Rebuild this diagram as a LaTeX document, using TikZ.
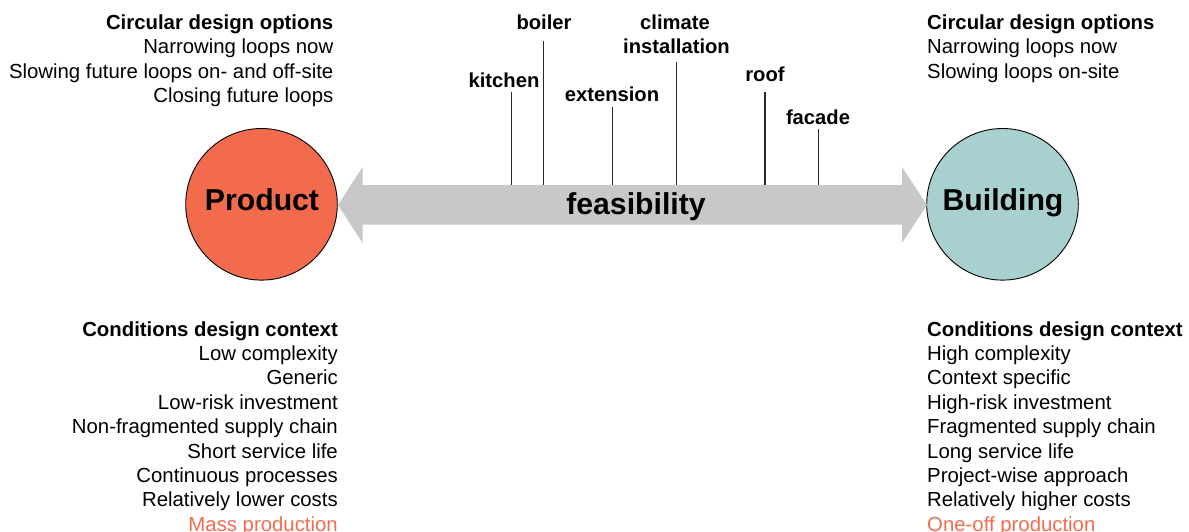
\documentclass[tikz,border=0pt]{standalone}
\usepackage{fontspec}
\setmainfont{Liberation Sans}
\definecolor{prodfill}{RGB}{243,107,77}
\definecolor{buildfill}{RGB}{168,208,206}
\definecolor{arrowgrey}{RGB}{200,200,200}
\definecolor{accent}{RGB}{243,107,77}
\definecolor{tickline}{RGB}{40,40,40}
\begin{document}
\begin{tikzpicture}[x=1pt,y=-1pt,
  body/.style={inner sep=0pt,font=\fontsize{20.35}{24}\selectfont},
  head/.style={body,font=\fontsize{20.35}{24}\selectfont\bfseries},
  tag/.style={inner sep=0pt,anchor=base,font=\fontsize{20.2}{24}\selectfont\bfseries},
  big/.style={inner sep=0pt,anchor=base,font=\fontsize{30.2}{36}\selectfont\bfseries},
  circ/.style={circle,draw=black,line width=0.9pt,minimum size=151.6pt,inner sep=0pt},
  tick/.style={draw=tickline,line width=1.4pt}]
\useasboundingbox (0,0) rectangle (1189,532);
% circles
\node[circ,fill=prodfill] (product) at (261.5,204.3) {};
\node[circ,fill=buildfill] (building) at (1002.5,204.3) {};
\node[big] (productlabel) at (262,210.7) {Product};
\node[big] (buildinglabel) at (1003,210.2) {Building};
% double arrow
\coordinate (ltip) at (338,205);
\coordinate (rtip) at (927,205);
\fill[arrowgrey] (ltip) -- (362.5,167) -- (362.5,185) -- (902,185) -- (902,167) -- (rtip)
  -- (902,243) -- (902,224.5) -- (362.5,224.5) -- (362.5,243) -- cycle;
\node[big] (feas) at (636,214.3) {feasibility};
% component labels and ticks
\node[tag] (kitchen) at (504,87.3) {kitchen};
\node[tag] (boiler) at (544,30) {boiler};
\node[tag] (climate) at (675,29.3) {climate};
\node[tag] (install) at (676.5,54) {installation};
\node[tag] (extension) at (612,101.7) {extension};
\node[tag] (roof) at (765,81.7) {roof};
\node[tag] (facade) at (818,125) {facade};
\foreach \n/\x/\y in {kitchen/511.7/92,boiler/543.7/41,extension/612.3/107,install/676.7/62,roof/765/92,facade/818.7/129}{
  \coordinate (\n top) at (\x,\y);
  \coordinate (\n bot) at (\x,185);
  \draw[tick] (\n top) -- (\n bot);
}
% top-left block
\node[head,anchor=base east] (tl0) at (333.5,29.5) {Circular design options};
\node[body,anchor=base east] (tl1) at (333.5,54) {Narrowing loops now};
\node[body,anchor=base east] (tl2) at (333.5,78.5) {Slowing future loops on- and off-site};
\node[body,anchor=base east] (tl3) at (333.5,103) {Closing future loops};
% top-right block
\node[head,anchor=base west] (tr0) at (927,29.5) {Circular design options};
\node[body,anchor=base west] (tr1) at (927,54) {Narrowing loops now};
\node[body,anchor=base west] (tr2) at (927,78.5) {Slowing loops on-site};
% bottom-left block
\node[head,anchor=base east] (bl0) at (338,336) {Conditions design context};
\foreach \t [count=\i] in {Low complexity,Generic,Low-risk investment,Non-fragmented supply chain,Short service life,Continuous processes,Relatively lower costs}{
  \node[body,anchor=base east] (bl\i) at (338,336+24.4*\i) {\t};
}
\node[body,anchor=base east,text=accent] (bl8) at (338,531.2) {Mass production};
% bottom-right block
\node[head,anchor=base west] (br0) at (927,336) {Conditions design context};
\foreach \t [count=\i] in {High complexity,Context specific,High-risk investment,Fragmented supply chain,Long service life,Project-wise approach,Relatively higher costs}{
  \node[body,anchor=base west] (br\i) at (927,336+24.4*\i) {\t};
}
\node[body,anchor=base west,text=accent] (br8) at (927,531.2) {One-off production};
\end{tikzpicture}
\end{document}
